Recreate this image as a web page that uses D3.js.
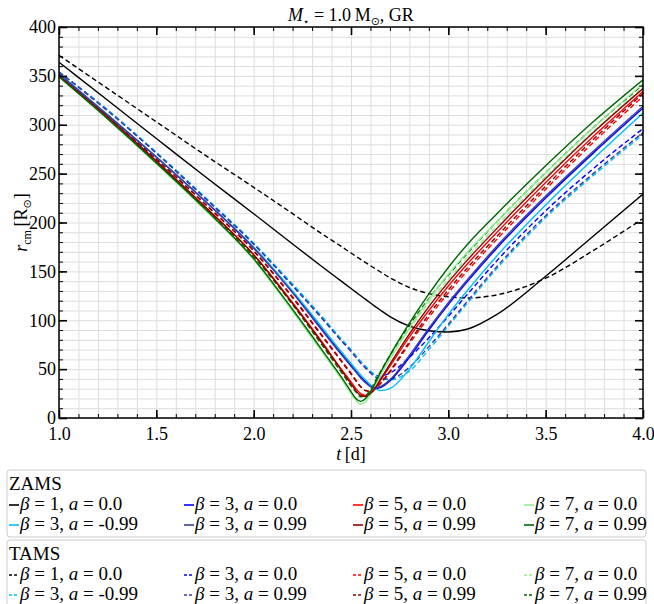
<!DOCTYPE html>
<html>
<head>
<meta charset="utf-8">
<script src="https://cdn.jsdelivr.net/npm/d3@7"></script>
<style>
  body { margin: 0; background: #fff; }
</style>
</head>
<body>
<script>
// ---- data ----
const tDays = [1.0, 1.25, 1.5, 1.75, 2.0, 2.2, 2.35, 2.45, 2.5, 2.525, 2.55, 2.575,
               2.6, 2.625, 2.65, 2.7, 2.8, 2.9, 3.0, 3.1, 3.25, 3.5, 3.75, 4.0];

// ZAMS (solid)
const zamsB1a0     = [364, 325, 286, 247, 209, 178, 155, 140, 132.5, 128.8, 125, 121.3, 117.6, 114, 110.5, 103.8, 94, 89.3, 88, 91, 106, 145, 187, 229];
const zamsB3a0     = [352, 310, 267, 222, 174, 129, 91, 66, 54, 48, 42, 37, 33, 30, 31, 38, 62, 90, 116, 140, 174, 225, 272, 317];
const zamsB5a0     = [350, 308, 263, 216, 167, 118, 78, 50, 37, 30, 25, 23, 25, 30, 38, 53, 83, 110, 135, 158, 190, 241, 289, 334];
const zamsB7a0     = [349, 306, 260, 213, 162, 109, 68, 40, 25, 18, 14, 17, 24, 33, 43, 60, 92, 121, 147, 170, 201, 251, 298, 342];
const zamsB3am099  = [352, 310, 267, 222, 175, 130, 93, 68, 56, 50, 44, 39, 34, 30, 28, 30, 50, 78, 106, 131, 166, 218, 266, 312];
const zamsB3a099   = [352, 310, 267, 222, 174, 128, 90, 65, 53, 47, 41, 36, 32, 31, 32, 39, 64, 92, 118, 142, 176, 227, 274, 319];
const zamsB5a099   = [350, 308, 263, 216, 167, 117, 77, 49, 35, 28, 23, 22, 25, 31, 39, 55, 86, 114, 139, 162, 194, 245, 293, 337];
const zamsB7a099   = [349, 306, 261, 214, 163, 111, 70, 42, 27, 20, 17, 20, 27, 36, 46, 64, 97, 127, 154, 178, 209, 258, 304, 346];

// TAMS (dashed)
const tamsB1a0     = [371, 337, 303, 269, 236, 209, 188.5, 175.5, 168.8, 165.5, 162.2, 159, 155.8, 152.7, 149.6, 143.6, 133.5, 127.3, 124, 122.8, 126, 143, 172, 204];
const tamsB3a0     = [354, 315, 271, 225, 178, 136, 103, 80, 69, 63, 57, 52, 47, 44, 43, 46, 62, 82, 104, 127, 161, 212, 256, 296];
const tamsB5a0     = [351, 309, 265, 219, 171, 124, 85, 59, 46, 39, 32, 28, 28, 31, 35, 47, 76, 103, 128, 151, 183, 234, 283, 329];
const tamsB7a0     = [350, 307, 262, 215, 165, 116, 75, 47, 33, 26, 21, 22, 28, 36, 45, 61, 91, 118, 142, 165, 197, 247, 294, 338];
const tamsB3am099  = [354, 315, 272, 226, 179, 137, 104, 81, 70, 64, 58, 53, 48, 44, 41, 39, 48, 70, 94, 118, 153, 205, 249, 290];
const tamsB3a099   = [354, 314, 271, 225, 178, 135, 102, 79, 68, 62, 56, 51, 46, 42, 40, 40, 52, 73, 96, 120, 155, 207, 251, 292];
const tamsB5a099   = [351, 309, 265, 219, 171, 123, 84, 58, 45, 38, 32, 28, 27, 30, 35, 48, 78, 106, 131, 154, 186, 237, 286, 332];
const tamsB7a099   = [350, 307, 262, 215, 165, 116, 75, 47, 33, 27, 22, 23, 29, 38, 47, 64, 95, 122, 146, 169, 201, 251, 298, 341];

const stages = ["ZAMS", "TAMS"];
const betas  = [1, 3, 5, 7, 3, 3, 5, 7];
const spins  = ["0.0", "0.0", "0.0", "0.0", "-0.99", "0.99", "0.99", "0.99"];
const zamsR  = [zamsB1a0, zamsB3a0, zamsB5a0, zamsB7a0, zamsB3am099, zamsB3a099, zamsB5a099, zamsB7a099];
const tamsR  = [tamsB1a0, tamsB3a0, tamsB5a0, tamsB7a0, tamsB3am099, tamsB3a099, tamsB5a099, tamsB7a099];

const xTicks = [1.0, 1.5, 2.0, 2.5, 3.0, 3.5, 4.0];
const yTicks = [0, 50, 100, 150, 200, 250, 300, 350, 400];

// ---- styles ----
const colors = ["#000000", "#0000ff", "#ff0000", "#90ee90", "#00bfff", "#3b3b9c", "#8b0000", "#006400"];
const serif = "'Liberation Serif', 'Times New Roman', Times, 'DejaVu Serif', serif";

const W = 654, H = 604;
const plot = {left: 59, right: 643, top: 27, bottom: 418};

const svg = d3.select("body").append("svg")
  .attr("width", W)
  .attr("height", H)
  .style("font-family", serif);

const x = d3.scaleLinear().domain([1, 4]).range([plot.left, plot.right]);
const y = d3.scaleLinear().domain([0, 400]).range([plot.bottom, plot.top]);

const minorX = d3.range(10, 41).map(d => d / 10);
const minorY = d3.range(0, 401, 10);

// grid
svg.append("g")
  .attr("transform", `translate(0,${plot.bottom})`)
  .call(d3.axisBottom(x).tickValues(minorX).tickSize(-(plot.bottom - plot.top)).tickFormat(""))
  .call(g => g.select(".domain").remove())
  .selectAll("line").attr("stroke", "#dddddd").attr("stroke-width", 1);

svg.append("g")
  .attr("transform", `translate(${plot.left},0)`)
  .call(d3.axisLeft(y).tickValues(minorY).tickSize(-(plot.right - plot.left)).tickFormat(""))
  .call(g => g.select(".domain").remove())
  .selectAll("line").attr("stroke", "#dddddd").attr("stroke-width", 1);

// curves
svg.append("clipPath").attr("id", "clip")
  .append("rect")
  .attr("x", plot.left).attr("y", plot.top)
  .attr("width", plot.right - plot.left).attr("height", plot.bottom - plot.top);

const line = d3.line()
  .x((d, i) => x(tDays[i]))
  .y(d => y(d))
  .curve(d3.curveMonotoneX);

const curves = svg.append("g").attr("clip-path", "url(#clip)");

[tamsR, zamsR].forEach((set, k) => {
  set.forEach((vals, i) => {
    curves.append("path")
      .datum(vals)
      .attr("d", line)
      .attr("fill", "none")
      .attr("stroke", colors[i])
      .attr("stroke-width", 1.4)
      .attr("stroke-dasharray", k === 0 ? "5,3" : null);
  });
});

// axes, ticks inward on all sides
function styleAxis(g) {
  g.attr("font-family", null);
  g.select(".domain").remove();
  g.selectAll("line").attr("stroke", "#000");
  g.selectAll("text").attr("font-size", 18).style("font-family", serif);
}

function minor(axis, vals) {
  return axis.tickValues(vals).tickSize(-4).tickFormat("");
}

svg.append("g").attr("transform", `translate(0,${plot.bottom})`)
  .call(minor(d3.axisBottom(x), minorX)).call(styleAxis);
svg.append("g").attr("transform", `translate(0,${plot.top})`)
  .call(minor(d3.axisTop(x), minorX)).call(styleAxis);
svg.append("g").attr("transform", `translate(${plot.left},0)`)
  .call(minor(d3.axisLeft(y), minorY)).call(styleAxis);
svg.append("g").attr("transform", `translate(${plot.right},0)`)
  .call(minor(d3.axisRight(y), minorY)).call(styleAxis);

svg.append("g").attr("transform", `translate(0,${plot.bottom})`)
  .call(d3.axisBottom(x).tickValues(xTicks).tickSize(-8).tickPadding(9).tickFormat(d3.format(".1f")))
  .call(styleAxis)
  .selectAll("line").attr("stroke-width", 1.6);
svg.append("g").attr("transform", `translate(0,${plot.top})`)
  .call(d3.axisTop(x).tickValues(xTicks).tickSize(-8).tickFormat(""))
  .call(styleAxis)
  .selectAll("line").attr("stroke-width", 1.6);
svg.append("g").attr("transform", `translate(${plot.left},0)`)
  .call(d3.axisLeft(y).tickValues(yTicks).tickSize(-8).tickPadding(3).tickFormat(d3.format("d")))
  .call(styleAxis)
  .selectAll("line").attr("stroke-width", 1.6);
svg.append("g").attr("transform", `translate(${plot.right},0)`)
  .call(d3.axisRight(y).tickValues(yTicks).tickSize(-8).tickFormat(""))
  .call(styleAxis)
  .selectAll("line").attr("stroke-width", 1.6);

svg.append("rect")
  .attr("x", plot.left).attr("y", plot.top)
  .attr("width", plot.right - plot.left).attr("height", plot.bottom - plot.top)
  .attr("fill", "none").attr("stroke", "#000").attr("stroke-width", 1.5);

// title
const title = svg.append("text")
  .attr("x", (plot.left + plot.right) / 2).attr("y", 21)
  .attr("text-anchor", "middle").attr("font-size", 18);
title.append("tspan").attr("font-style", "italic").text("M");
title.append("tspan").attr("font-size", 10).attr("dy", 4).style("font-family", "'DejaVu Sans'").text("\u22c6");
title.append("tspan").attr("dy", -4).text(" = 1.0\u2009M");
title.append("tspan").attr("font-size", 11).attr("dy", 4).style("font-family", "'DejaVu Sans'").text("\u2299");
title.append("tspan").attr("dy", -4).text(", GR");

// axis labels
const xl = svg.append("text")
  .attr("x", (plot.left + plot.right) / 2).attr("y", 460)
  .attr("text-anchor", "middle").attr("font-size", 18);
xl.append("tspan").attr("font-style", "italic").text("t");
xl.append("tspan").text("\u2009[d]");

const yl = svg.append("text")
  .attr("transform", `translate(27,${(plot.top + plot.bottom) / 2}) rotate(-90)`)
  .attr("text-anchor", "middle").attr("font-size", 18);
yl.append("tspan").attr("font-style", "italic").text("r");
yl.append("tspan").attr("font-size", 12).attr("dy", 4).text("cm");
yl.append("tspan").attr("dy", -4).text("\u2009[R");
yl.append("tspan").attr("font-size", 11).attr("dy", 4).style("font-family", "'DejaVu Sans'").text("\u2299");
yl.append("tspan").attr("dy", -4).text("]");

// legends
const legendCols = [9, 184, 353, 524];
const boxTop = [470, 540];

stages.forEach((stage, k) => {
  const g = svg.append("g").attr("transform", `translate(0,${boxTop[k]})`);
  g.append("rect")
    .attr("x", 7).attr("y", 0).attr("width", 639).attr("height", 67)
    .attr("rx", 3)
    .attr("fill", "#fff").attr("stroke", "#cccccc").attr("stroke-width", 1);
  g.append("text").attr("x", 9).attr("y", 20).attr("font-size", 19).text(stage);

  const rows = k === 0 ? zamsR : tamsR;
  rows.forEach((vals, i) => {
    const cx = legendCols[i % 4];
    const cy = 40 + Math.floor(i / 4) * 20;
    g.append("line")
      .attr("x1", cx).attr("x2", cx + 10)
      .attr("y1", cy - 5).attr("y2", cy - 5)
      .attr("stroke", colors[i]).attr("stroke-width", 1.6)
      .attr("stroke-dasharray", k === 1 ? "3,2" : null);
    const t = g.append("text").attr("x", cx + 11).attr("y", cy).attr("font-size", 19);
    t.append("tspan").attr("font-style", "italic").text("\u03b2");
    t.append("tspan").text(` = ${betas[i]}, `);
    t.append("tspan").attr("font-style", "italic").text("a");
    t.append("tspan").text(` = ${spins[i]}`);
  });
});
</script>
</body>
</html>
